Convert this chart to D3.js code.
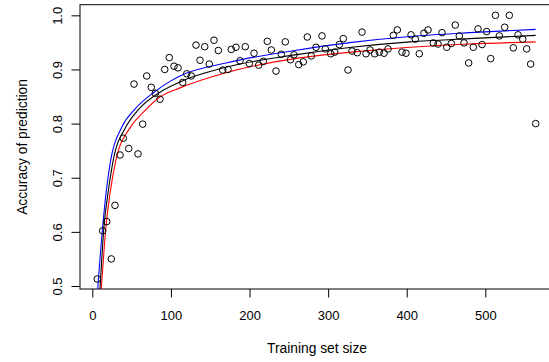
<!DOCTYPE html>
<html>
<head>
<meta charset="utf-8">
<script src="https://cdn.jsdelivr.net/npm/d3@7"></script>
<style>
    body { margin: 0; background: #fff; }
    svg { display: block; font-family: "Liberation Sans", Arial, Helvetica, sans-serif; }
</style>
</head>
<body>
<div id="chart"></div>
<script>
// observed points
var trainSize = [6.3, 13.2, 18.3, 24.1, 28.8, 35.2, 39.4, 46.3, 58.1, 53.0, 64.1, 69.2, 75.0, 80.1, 86.1,
    92.1, 97.9, 103.9, 109.0, 115.0, 120.1, 125.9, 131.9, 137.0, 143.0, 148.8, 154.8, 160.3, 165.9,
    172.6, 176.8, 182.8, 187.9, 194.6, 199.7, 205.7, 211.7, 217.5, 222.6, 227.7, 233.7, 240.4, 245.5,
    252.1, 256.6, 262.6, 268.4, 273.5, 278.6, 284.6, 292.2, 296.4, 303.3, 308.4, 314.2, 319.3, 325.3,
    330.4, 337.1, 343.1, 348.2, 353.3, 359.2, 365.1, 371.1, 376.2, 382.9, 388.0, 394.0, 399.1, 405.5,
    410.9, 416.0, 421.9, 427.1, 433.8, 439.8, 444.9, 450.9, 456.7, 461.8, 466.9, 472.9, 478.8, 484.7,
    490.7, 495.8, 501.7, 506.8, 512.9, 517.8, 524.6, 530.5, 535.6, 541.6, 547.6, 552.6, 557.7, 564.1];
var accuracy = [0.513, 0.602, 0.619, 0.550, 0.649, 0.742, 0.773, 0.754, 0.744, 0.873, 0.799, 0.888, 0.867, 0.856, 0.845,
    0.900, 0.922, 0.906, 0.903, 0.876, 0.892, 0.888, 0.945, 0.917, 0.942, 0.910, 0.954, 0.935, 0.899,
    0.900, 0.937, 0.941, 0.916, 0.942, 0.911, 0.930, 0.908, 0.915, 0.952, 0.936, 0.897, 0.928, 0.951,
    0.918, 0.927, 0.909, 0.914, 0.960, 0.925, 0.941, 0.962, 0.938, 0.929, 0.932, 0.946, 0.957, 0.899,
    0.934, 0.931, 0.969, 0.929, 0.936, 0.929, 0.932, 0.930, 0.938, 0.963, 0.973, 0.932, 0.930, 0.964,
    0.956, 0.929, 0.967, 0.973, 0.949, 0.947, 0.968, 0.941, 0.948, 0.982, 0.962, 0.949, 0.912, 0.941,
    0.975, 0.946, 0.970, 0.920, 1.000, 0.962, 0.978, 1.000, 0.940, 0.964, 0.956, 0.938, 0.910, 0.800];

// fitted curve (black) and its upper (blue) / lower (red) bands
var fitX = [9.6, 14.85, 19.9, 26.7, 42.8, 60, 86, 111.5, 170, 257.8, 330, 404, 480, 564];
var fitY = [0.49, 0.61, 0.671, 0.733, 0.794, 0.828, 0.858, 0.877, 0.904, 0.927, 0.941, 0.951, 0.957, 0.963];
var upperX = [6.6, 13.2, 17.4, 23.4, 37.7, 55, 77.6, 98.8, 111.5, 170, 257.8, 330, 404, 480, 564];
var upperY = [0.49, 0.61, 0.671, 0.733, 0.794, 0.828, 0.857, 0.878, 0.888, 0.912, 0.935, 0.950, 0.961, 0.968, 0.974];
var lowerX = [11.2, 17.4, 22.5, 30.1, 48.8, 65, 86, 111.5, 170, 257.8, 330, 404, 480, 564];
var lowerY = [0.49, 0.61, 0.671, 0.733, 0.794, 0.821, 0.849, 0.866, 0.894, 0.920, 0.932, 0.941, 0.947, 0.951];

var xTicks = [0, 100, 200, 300, 400, 500];
var yTicks = [0.5, 0.6, 0.7, 0.8, 0.9, 1.0];

var width = 549, height = 362;
// plot box (right edge falls just outside the picture)
var box = { left: 80, right: 555, top: 4.7, bottom: 289 };

var svg = d3.select('#chart').append('svg')
    .attr('width', width)
    .attr('height', height);

var xScale = d3.scaleLinear().domain([0, 500]).range([92.33, 485.33]);
var yScale = d3.scaleLinear().domain([0.5, 1.0]).range([286, 15.33]);

svg.append('clipPath').attr('id', 'plotclip')
    .append('rect')
    .attr('x', box.left).attr('y', box.top)
    .attr('width', box.right - box.left).attr('height', box.bottom - box.top);

// axes
var xAxis = d3.axisBottom(xScale).tickValues(xTicks).tickSize(8.5).tickPadding(4)
    .tickFormat(d3.format('d'));
var gx = svg.append('g')
    .attr('transform', 'translate(0,' + box.bottom + ')')
    .call(xAxis);
gx.select('.domain').remove();
gx.selectAll('line').attr('stroke', '#000');
gx.selectAll('text')
    .attr('y', 31)
    .attr('dy', null)
    .attr('fill', '#000')
    .style('font-size', '13px');

var yAxis = d3.axisLeft(yScale).tickValues(yTicks).tickSize(8.5).tickFormat(d3.format('.1f'));
var gy = svg.append('g')
    .attr('transform', 'translate(' + box.left + ',0)')
    .call(yAxis);
gy.select('.domain').remove();
gy.selectAll('line').attr('stroke', '#000');
gy.selectAll('text')
    .attr('x', null).attr('dy', null)
    .attr('text-anchor', 'middle')
    .attr('transform', 'translate(-18.5,0) rotate(-90)')
    .attr('fill', '#000')
    .style('font-size', '13px');

// box
svg.append('rect')
    .attr('x', box.left).attr('y', box.top)
    .attr('width', box.right - box.left).attr('height', box.bottom - box.top)
    .attr('fill', 'none')
    .attr('stroke', '#000')
    .attr('stroke-width', 1);

var plot = svg.append('g').attr('clip-path', 'url(#plotclip)');

function drawCurve(xs, ys, color) {
    var line = d3.line()
        .x(function (d) { return xScale(d[0]); })
        .y(function (d) { return yScale(d[1]); })
        .curve(d3.curveMonotoneX);
    plot.append('path')
        .datum(d3.zip(xs, ys))
        .attr('d', line)
        .attr('fill', 'none')
        .attr('stroke', color)
        .attr('stroke-width', 1.1);
}

drawCurve(upperX, upperY, '#0000ff');
drawCurve(lowerX, lowerY, '#ff0000');
drawCurve(fitX, fitY, '#000000');

plot.selectAll('circle')
    .data(d3.zip(trainSize, accuracy)).enter()
    .append('circle')
    .attr('cx', function (d) { return xScale(d[0]); })
    .attr('cy', function (d) { return yScale(d[1]); })
    .attr('r', 3.3)
    .attr('fill', 'none')
    .attr('stroke', '#000')
    .attr('stroke-width', 1);

// axis titles
svg.append('text')
    .attr('x', 317).attr('y', 353)
    .attr('text-anchor', 'middle')
    .style('font-size', '13.8px')
    .text('Training set size');

svg.append('text')
    .attr('transform', 'translate(27,147) rotate(-90)')
    .attr('text-anchor', 'middle')
    .style('font-size', '13.8px')
    .text('Accuracy of prediction');
</script>
</body>
</html>
